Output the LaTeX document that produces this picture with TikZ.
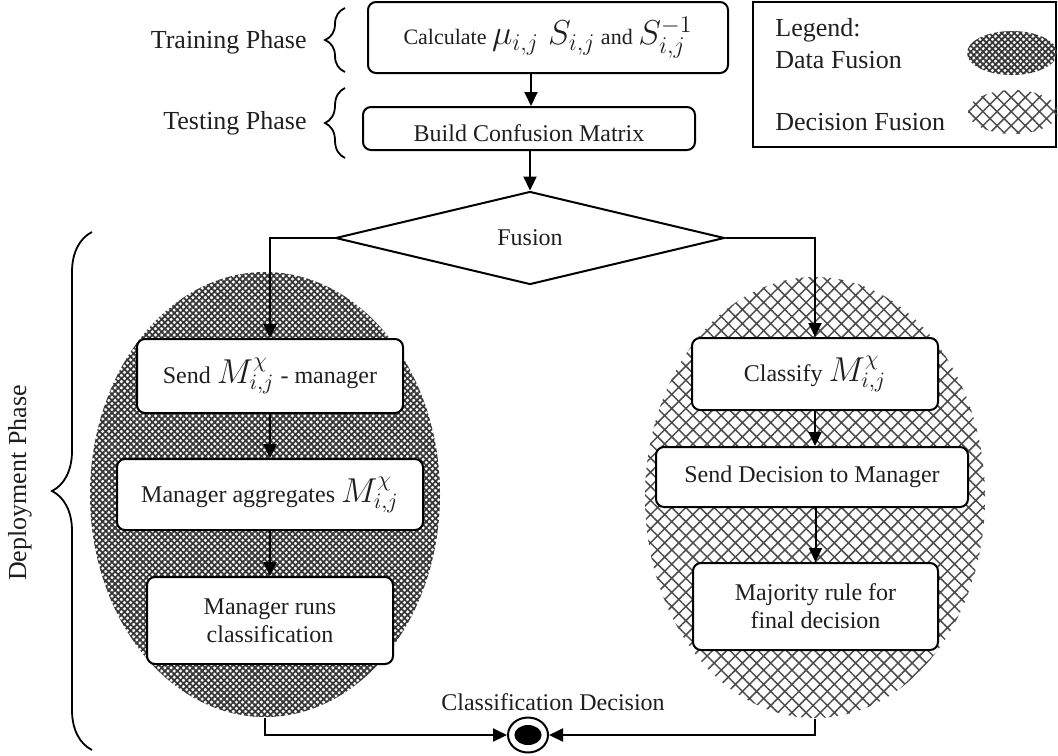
\documentclass[tikz,border=0pt]{standalone}
\usepackage{fontspec}
\setmainfont{Liberation Serif}
\usetikzlibrary{shapes.geometric,arrows.meta,patterns.meta,decorations.pathreplacing}
\begin{document}
\begin{tikzpicture}[x=0.5pt,y=-0.5pt,
  every node/.style={font=\fontsize{12}{14}\selectfont, text=black!88},
  lbl/.style={font=\fontsize{13}{15}\selectfont, inner sep=0pt},
  box/.style={draw, line width=1pt, rounded corners=4pt, fill=white, align=center, inner sep=0pt},
  arr/.style={line width=1pt, -{Triangle[length=7pt,width=6.5pt]}},
  datafill/.style={ellipse, draw=none, inner sep=0pt, fill=white, pattern={Hatch[angle=45,distance=2.2pt,line width=0.9pt]}, pattern color=black!78},
  decfill/.style={ellipse, draw=none, inner sep=0pt, pattern={Hatch[angle=45,distance=5pt,line width=0.75pt]}, pattern color=black!70},
  brc/.style={decorate, line width=0.9pt}
]
\useasboundingbox (0,0) rectangle (1058,755);

% fusion regions
\node[datafill, minimum width=175pt, minimum height=222.5pt] (lell) at (265,494.5) {};
\node[decfill, minimum width=170pt, minimum height=220.5pt] (rell) at (815,497.5) {};

% top boxes
\node[box, minimum width=180pt, minimum height=35.5pt, font=\fontsize{11}{12}\selectfont] (calc) at (548,37.5)
  {Calculate {\fontsize{18}{19}\selectfont$\mu_{i,j}$ $S_{i,j}$} and {\fontsize{18}{19}\selectfont$S^{-1}_{i,j}$}};
\node[box, minimum width=166pt, minimum height=21.5pt, text height=13pt, text depth=0pt] (build) at (529,128.5)
  {Build Confusion Matrix};
\node[diamond, draw, line width=1pt, aspect=4, minimum width=194.5pt, minimum height=46.5pt, inner sep=0pt] (fus) at (530,238) {Fusion};

% left branch
\node[box, minimum width=133pt, minimum height=37pt] (send) at (270,376)
  {Send {\fontsize{16}{18}\selectfont$M^{\chi}_{i,j}$} - manager};
\node[box, minimum width=153pt, minimum height=35.5pt] (agg) at (270,494.5)
  {Manager aggregates {\fontsize{16}{18}\selectfont$M^{\chi}_{i,j}$}};
\node[box, minimum width=123pt, minimum height=43.5pt] (runs) at (270,620.5)
  {Manager runs\\classification};

% right branch
\node[box, minimum width=123pt, minimum height=36pt] (cls) at (815,374)
  {Classify {\fontsize{16}{18}\selectfont$M^{\chi}_{i,j}$}};
\node[box, minimum width=156pt, minimum height=30pt] (sdec) at (812,477)
  {Send Decision to Manager};
\node[box, minimum width=122.5pt, minimum height=43.5pt] (maj) at (815.5,606.5)
  {Majority rule for\\final decision};

% end node
\node[ellipse, draw, line width=1pt, fill=white, minimum width=20pt, minimum height=17.5pt, inner sep=0pt] (end) at (528,735) {};
\fill[black] (end.center) ellipse [x radius=6.8pt, y radius=5pt];
\node (cdl) at (553,702) {Classification Decision};

% connectors
\coordinate (ax) at (531,0);
\draw[arr] (calc.south -| ax) -- (build.north -| ax);
\draw[arr] (build.south -| fus.north) -- (fus.north);
\draw[arr] (fus.west) -| (send.north);
\draw[arr] (fus.east) -| (cls.north);
\draw[arr] (send.south) -- (agg.north);
\draw[arr] (agg.south) -- (runs.north);
\draw[arr] (cls.south) -- (cls.south |- sdec.north);
\draw[arr] (maj.north |- sdec.south) -- (maj.north);
\draw[arr] (lell.south) |- (end.west);
\draw[arr] (rell.south) |- (end.east);

% phase labels and braces
\node[lbl, anchor=east] (trl) at (307,42) {Training Phase};
\node[lbl, anchor=east] (tel) at (307,123) {Testing Phase};
\node[lbl, rotate=90] (dpl) at (20,483) {Deployment Phase};
\draw[brc, decoration={brace, amplitude=10pt}] (345,72) -- (345,8);
\draw[brc, decoration={brace, amplitude=10pt}] (345,158) -- (345,88);
\draw[brc, decoration={brace, amplitude=20pt}] (92,750) -- (92,232);

% legend
\node[draw, line width=1pt, minimum width=151.5pt, minimum height=72.5pt, inner sep=0pt] (leg) at (904.5,74.5) {};
\node[lbl, anchor=west] (lg1) at (775,30) {Legend:};
\node[lbl, anchor=west] (lg2) at (775,60) {Data Fusion};
\node[lbl, anchor=west] (lg3) at (775,122) {Decision Fusion};
\node[datafill, minimum width=45pt, minimum height=22pt] (lgd) at (1012,53) {};
\node[decfill, minimum width=45pt, minimum height=22pt] (lgc) at (1013,112) {};
\end{tikzpicture}
\end{document}
